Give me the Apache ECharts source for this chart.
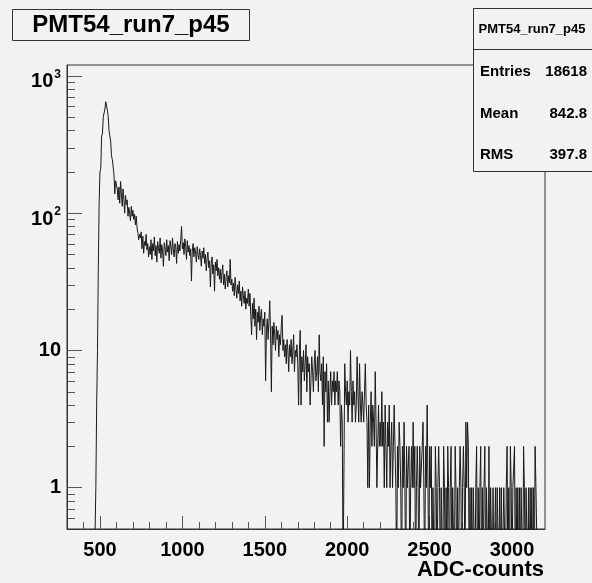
<!DOCTYPE html>
<html>
<head>
<meta charset="utf-8">
<script src="https://cdn.jsdelivr.net/npm/echarts@6/dist/echarts.min.js"></script>
<style>
html,body{margin:0;padding:0;background:#f2f2f2;}
#chart{width:592px;height:583px;}
</style>
</head>
<body>
<div id="chart"></div>
<script>
// ---- histogram definition (ADC channels) ----
const binStart = 300;
const binWidth = 5;
const xMin = 300, xMax = 3200;
const yMin = 0.5, yMax = 1200;

// counts per bin (bins of 5 ADC counts)
const countsRise = [ // 300 .. 595
  0,0,0,0,0,0,0,0,0,0, 0,0,0,0,0,0,0,0,0,0, 0,0,0,0,0,0,0,0,0,0, 0,0,0,0,0,
  1,4,10,40,120,200,212,365,378,500, 512,575,648,636,560,505,400,365,335,262, 245,218,190,138,172
];
const countsShoulder = [ // 600 .. 1045
  160,150,125,155,118,170,140,112,150,125,
  100,135,115,125,95,110,100,88,112,95,
  105,90,98,82,95,78,72,64,70,66,
  73,55,68,51,62,58,70,54,60,48,
  57,50,64,46,60,53,67,49,58,44,
  62,55,51,66,47,59,53,41,61,56,
  49,64,52,58,45,63,57,50,66,54,
  48,60,56,43,62,51,59,53,64,80,
  55,61,50,65,57,46,63,52,58,49
];
const countsSlope = [ // 1050 .. 1615
  55,32,53,60,48,56,51,44,57,50,
  46,55,49,41,53,47,56,43,50,38,
  47,52,40,45,29,43,48,36,42,27,
  44,38,46,35,40,33,39,31,37,42,
  30,36,28,34,38,29,35,31,46,30,
  33,27,31,25,34,28,24,30,26,32,
  23,27,21,29,25,22,27,20,24,22,
  28,21,26,18,13,22,17,24,15,20,
  12,19,16,21,14,18,20,13,17,15,
  19,6,14,17,12,16,23,13,5,15,
  11,16,13,10,15,12,14,9,13,11,
  15,18,10,12
];
const countsFall = [ // 1620 .. 2295
  9,11,8,12,10,7,11,9,12,8,
  10,13,7,10,9,11,8,4,10,14,
  4,9,7,10,6,8,11,5,9,7,
  8,4,6,9,7,5,8,10,6,7,
  9,5,13,7,6,8,4,9,2,7,
  5,8,3,6,3,5,7,4,6,5,
  7,4,6,5,7,4,6,5,2,4,
  3,0,0,8,5,4,6,3,5,4,
  10,5,3,6,4,5,3,4,9,5,
  3,8,4,3,5,4,3,5,8,4,
  3,1,4,1,3,5,2,4,3,2,
  7,3,1,1,4,2,3,2,5,2,
  3,1,4,2,1,3,2,4,1,2,
  3,1,2,4,2,1
];
const countsTail = [ // 2300 .. 3195
  0,2,1,3,2,1,0,2,1,3,
  1,0,2,1,1,2,0,1,2,1,
  3,1,2,0,1,2,1,0,2,1,
  1,2,3,1,0,2,1,4,1,0,
  2,1,2,0,1,1,0,2,1,0,
  1,2,1,0,1,1,0,2,1,0,
  1,0,2,1,0,1,2,0,1,1,
  0,2,1,0,1,0,1,2,1,0,
  1,2,1,0,3,1,3,2,0,1,
  0,1,0,1,1,0,1,2,0,1,
  0,1,2,0,1,0,1,2,0,1,
  1,0,2,0,1,1,0,1,0,0,
  1,0,1,1,0,1,0,1,0,0,
  1,1,0,1,2,0,1,0,2,1,
  0,1,1,2,0,1,0,1,0,1,
  0,1,1,0,2,1,0,1,1,0,
  1,0,1,0,1,0,1,0,2,1,
  1,0,0,0,0,0,0,0,0,0
];

// axis ticks and labels
const xMajorTicks = [500, 1000, 1500, 2000, 2500, 3000];
const xMinorTicks = [400,600,700,800,900,1100,1200,1300,1400,1600,1700,1800,1900,2100,2200,2300,2400,2600,2700,2800,2900,3100];
const yMajorTicks = [1, 10, 100, 1000];
const yMajorLabels = ['1', '10', '10^2', '10^3'];
const yMinorTicks = [0.6,0.7,0.8,0.9,2,3,4,5,6,7,8,9,20,30,40,50,60,70,80,90,200,300,400,500,600,700,800,900];

const histTitle = 'PMT54_run7_p45';
const xTitle = 'ADC-counts';
const statsLabels = ['Entries', 'Mean', 'RMS'];
const statsValues = ['18618', '842.8', '397.8'];

// ---- build histogram step points ----
const counts = [].concat(countsRise, countsShoulder, countsSlope, countsFall, countsTail);
const zeroFloor = 0.2; // empty bins drop below the axis (as on a log pad)
const histPoints = counts.map((c, i) => [binStart + i * binWidth, c > 0 ? c : zeroFloor]);
histPoints.push([binStart + counts.length * binWidth, counts[counts.length - 1] > 0 ? counts[counts.length - 1] : zeroFloor]);

const FONT = '"Liberation Sans", Arial, Helvetica, sans-serif';
const axisCol = '#555';

const chart = echarts.init(document.getElementById('chart'), null, {renderer: 'canvas'});

function yLabelFormatter(v) {
  const idx = yMajorTicks.findIndex(t => Math.abs(t - v) < 1e-6 * t);
  if (idx < 0) return '';
  const lab = yMajorLabels[idx];
  if (lab.indexOf('^') >= 0) {
    const parts = lab.split('^');
    return '{b|' + parts[0] + '}{s|' + parts[1] + '}';
  }
  return '{p|' + lab + '}';
}

const option = {
  backgroundColor: '#f2f2f2',
  animation: false,
  grid: {
    left: 67, top: 65, width: 478, height: 464,
    show: true, borderColor: '#333', borderWidth: 1, backgroundColor: 'transparent'
  },
  xAxis: [{
    type: 'value', min: xMin, max: xMax, position: 'bottom',
    axisLine: {show: true, lineStyle: {color: '#333', width: 1}},
    splitLine: {show: false},
    axisTick: {show: true, inside: true, length: 13, customValues: xMajorTicks, lineStyle: {color: axisCol}},
    axisLabel: {
      customValues: xMajorTicks, margin: 11, color: '#000',
      fontFamily: FONT, fontWeight: 'bold', fontSize: 20,
      formatter: v => String(v)
    }
  }, {
    type: 'value', min: xMin, max: xMax, position: 'bottom',
    axisLine: {show: false},
    splitLine: {show: false},
    axisTick: {show: true, inside: true, length: 7, customValues: xMinorTicks, lineStyle: {color: axisCol}},
    axisLabel: {show: false}
  }],
  yAxis: [{
    type: 'log', logBase: 10, min: yMin, max: yMax,
    axisLine: {show: true, lineStyle: {color: '#333', width: 1}},
    splitLine: {show: false},
    axisTick: {show: true, inside: true, length: 15, lineStyle: {color: axisCol}},
    axisLabel: {
      showMinLabel: false, showMaxLabel: false,
      margin: 6, color: '#000', formatter: yLabelFormatter,
      rich: {
        p: {fontFamily: FONT, fontWeight: 'bold', fontSize: 20, color: '#000'},
        b: {fontFamily: FONT, fontWeight: 'bold', fontSize: 20, lineHeight: 20, padding: [12, 0, 0, 0], color: '#000'},
        s: {fontFamily: FONT, fontWeight: 'bold', fontSize: 12, lineHeight: 12, padding: [0, 0, 2, 1], color: '#000'}
      }
    }
  }],
  series: [{
    type: 'line',
    data: histPoints,
    step: 'end',
    showSymbol: false,
    clip: true,
    lineStyle: {color: '#1a1a1a', width: 1},
    silent: true,
    z: 3
  }, {
    type: 'custom',
    silent: true,
    clip: false,
    data: yMinorTicks.map(v => [xMin, v]),
    renderItem: function (params, api) {
      const p = api.coord([api.value(0), api.value(1)]);
      const x = Math.round(p[0]) + 0.5, y = Math.round(p[1]) + 0.5;
      return {type: 'line', shape: {x1: x, y1: y, x2: x + 7.5, y2: y}, style: {stroke: axisCol, lineWidth: 1}};
    },
    z: 2
  }],
  graphic: [
    {type: 'rect', z: 100, shape: {x: 12.5, y: 9.5, width: 237, height: 31}, style: {fill: '#f2f2f2', stroke: '#333', lineWidth: 1}},
    {type: 'text', z: 101, x: 131, y: 25.5, style: {text: histTitle, font: 'bold 24px ' + FONT, fill: '#000', textAlign: 'center', textVerticalAlign: 'middle'}},
    {type: 'rect', z: 100, shape: {x: 473.5, y: 8.5, width: 130, height: 163}, style: {fill: '#f2f2f2', stroke: '#333', lineWidth: 1}},
    {type: 'line', z: 101, shape: {x1: 473.5, y1: 49.5, x2: 592, y2: 49.5}, style: {stroke: '#333', lineWidth: 1}},
    {type: 'text', z: 101, x: 532, y: 29, style: {text: histTitle, font: 'bold 13px ' + FONT, fill: '#000', textAlign: 'center', textVerticalAlign: 'middle'}},
    ...statsLabels.map((t, i) => ({type: 'text', z: 101, x: 480, y: 72 + i * 41.5, style: {text: t, font: 'bold 15px ' + FONT, fill: '#000', textAlign: 'left', textVerticalAlign: 'middle'}})),
    ...statsValues.map((t, i) => ({type: 'text', z: 101, x: 587, y: 72 + i * 41.5, style: {text: t, font: 'bold 15px ' + FONT, fill: '#000', textAlign: 'right', textVerticalAlign: 'middle'}})),
    {type: 'text', z: 101, x: 544, y: 570, style: {text: xTitle, font: 'bold 22px ' + FONT, fill: '#000', textAlign: 'right', textVerticalAlign: 'middle'}}
  ]
};
chart.setOption(option);
</script>
</body>
</html>
